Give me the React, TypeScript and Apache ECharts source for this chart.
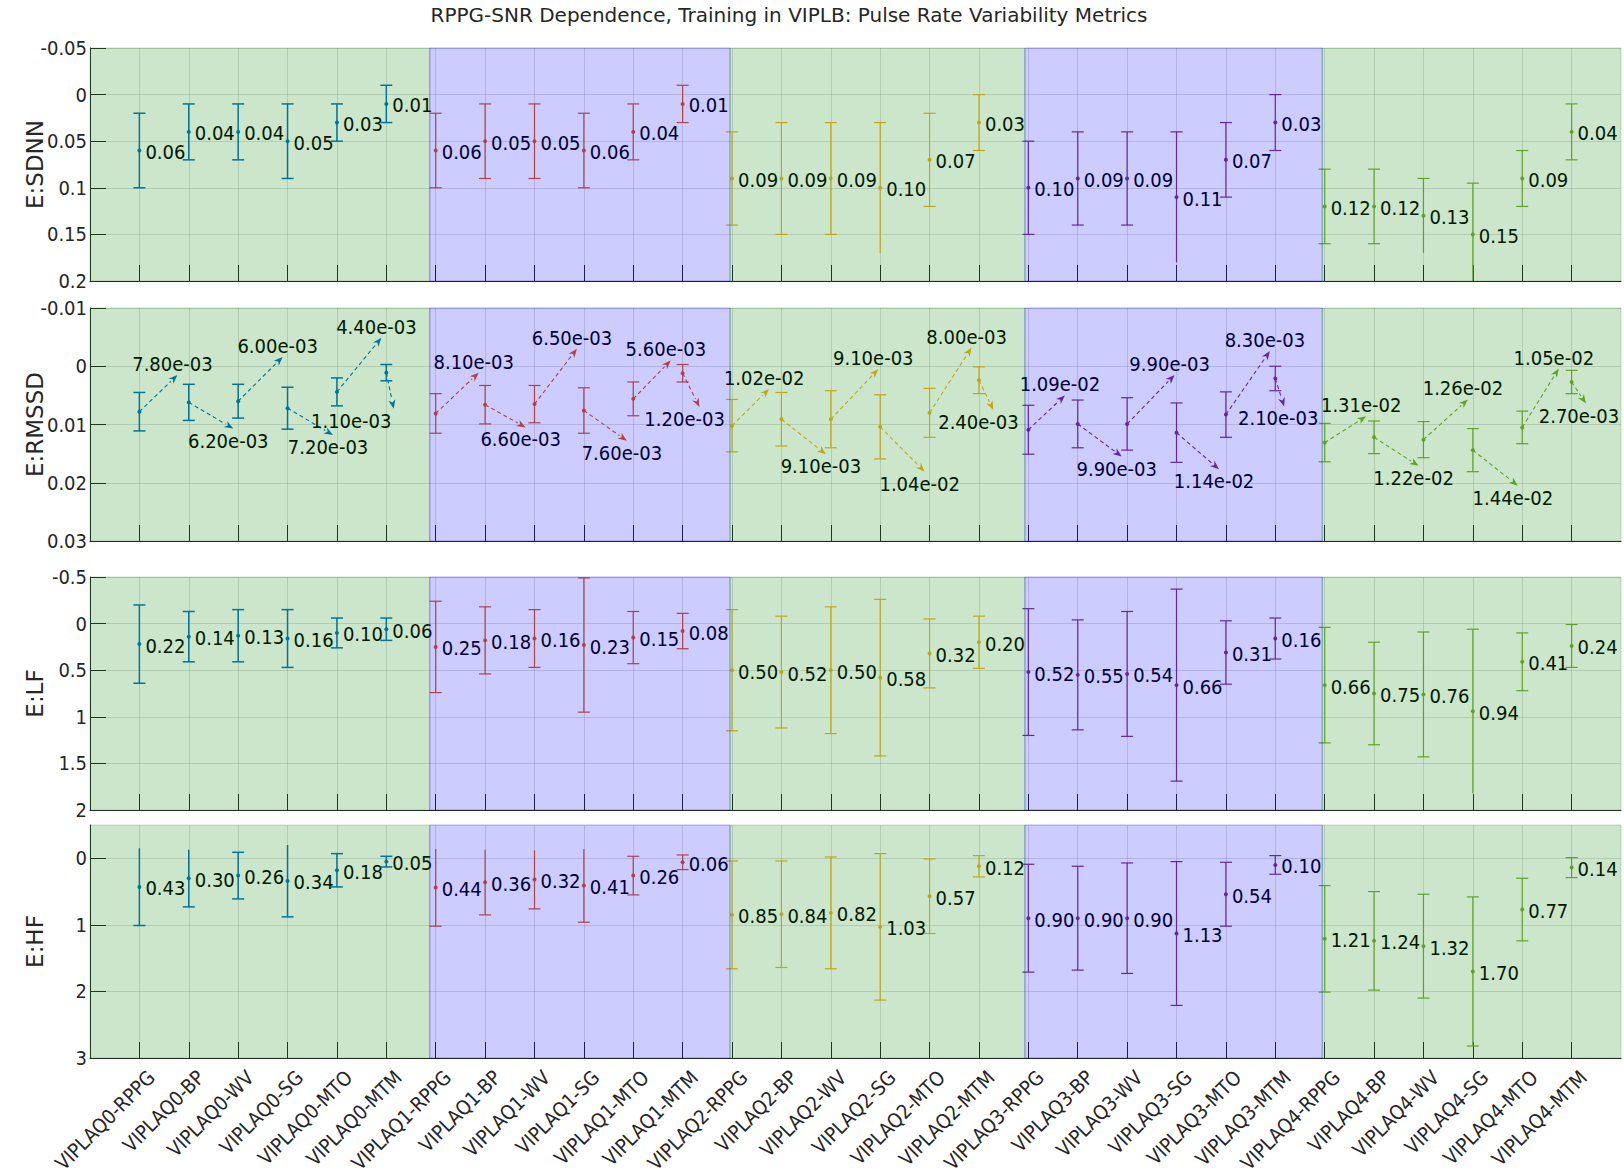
import React, { useEffect, useRef } from "react";
import * as echarts from "echarts";

const categories = [
  "VIPLAQ0-RPPG", "VIPLAQ0-BP", "VIPLAQ0-WV", "VIPLAQ0-SG", "VIPLAQ0-MTO", "VIPLAQ0-MTM",
  "VIPLAQ1-RPPG", "VIPLAQ1-BP", "VIPLAQ1-WV", "VIPLAQ1-SG", "VIPLAQ1-MTO", "VIPLAQ1-MTM",
  "VIPLAQ2-RPPG", "VIPLAQ2-BP", "VIPLAQ2-WV", "VIPLAQ2-SG", "VIPLAQ2-MTO", "VIPLAQ2-MTM",
  "VIPLAQ3-RPPG", "VIPLAQ3-BP", "VIPLAQ3-WV", "VIPLAQ3-SG", "VIPLAQ3-MTO", "VIPLAQ3-MTM",
  "VIPLAQ4-RPPG", "VIPLAQ4-BP", "VIPLAQ4-WV", "VIPLAQ4-SG", "VIPLAQ4-MTO", "VIPLAQ4-MTM",
];

// E:SDNN
const sdnnMean = [
  0.06, 0.04, 0.04, 0.05, 0.03, 0.01,
  0.06, 0.05, 0.05, 0.06, 0.04, 0.01,
  0.09, 0.09, 0.09, 0.10, 0.07, 0.03,
  0.10, 0.09, 0.09, 0.11, 0.07, 0.03,
  0.12, 0.12, 0.13, 0.15, 0.09, 0.04,
];
const sdnnErr = [
  0.04, 0.03, 0.03, 0.04, 0.02, 0.02,
  0.04, 0.04, 0.04, 0.04, 0.03, 0.02,
  0.05, 0.06, 0.06, 0.07, 0.05, 0.03,
  0.05, 0.05, 0.05, 0.07, 0.04, 0.03,
  0.04, 0.04, 0.04, 0.055, 0.03, 0.03,
];
const sdnnOpenHigh = [15, 21, 26, 27];

// E:RMSSD
const rmssdMean = [
  0.0078, 0.0062, 0.0060, 0.0072, 0.0044, 0.0011,
  0.0081, 0.0066, 0.0065, 0.0076, 0.0056, 0.0012,
  0.0102, 0.0091, 0.0091, 0.0104, 0.0080, 0.0024,
  0.0109, 0.0099, 0.0099, 0.0114, 0.0083, 0.0021,
  0.0131, 0.0122, 0.0126, 0.0144, 0.0105, 0.0027,
];
const rmssdErr = [
  0.0033, 0.0031, 0.0029, 0.0036, 0.0024, 0.0014,
  0.0034, 0.0033, 0.0032, 0.0039, 0.0029, 0.0015,
  0.0045, 0.0046, 0.0049, 0.0055, 0.0042, 0.0023,
  0.0042, 0.0041, 0.0045, 0.0051, 0.0039, 0.0021,
  0.0033, 0.0028, 0.0031, 0.0037, 0.0028, 0.0020,
];
// annotation arrow heads: x offset (in categories) and y value
const rmssdArrowDx = [
  0.77, 0.90, 0.90, 0.92, 0.90, 0.15,
  0.87, 0.82, 0.86, 0.87, 0.76, 0.34,
  0.75, 0.90, 0.96, 0.90, 0.85, 0.29,
  0.74, 0.89, 0.96, 0.86, 0.89, 0.18,
  0.84, 0.90, 0.90, 0.91, 0.74, 0.29,
];
const rmssdArrowY = [
  0.0015, 0.0107, -0.0016, 0.0118, -0.0049, 0.0073,
  0.0011, 0.0105, -0.0030, 0.0128, -0.0010, 0.0070,
  0.0039, 0.0151, 0.0005, 0.0181, -0.0032, 0.0075,
  0.0050, 0.0155, 0.0015, 0.0177, -0.0026, 0.0069,
  0.0086, 0.0171, 0.0057, 0.0205, 0.0004, 0.0064,
];
// annotation text shift from the arrow head (in categories)
const rmssdTextDx = [
  -0.1, -0.1, -0.1, -0.1, -0.1, -0.86,
  -0.1, -0.1, -0.1, -0.1, -0.1, -0.3,
  -0.1, -0.1, -0.1, -0.1, -0.1, -0.3,
  -0.1, -0.1, -0.1, -0.1, -0.1, -0.12,
  -0.1, -0.1, -0.1, -0.1, -0.1, -0.14,
];

// E:LF
const lfMean = [
  0.22, 0.14, 0.13, 0.16, 0.10, 0.06,
  0.25, 0.18, 0.16, 0.23, 0.15, 0.08,
  0.50, 0.52, 0.50, 0.58, 0.32, 0.20,
  0.52, 0.55, 0.54, 0.66, 0.31, 0.16,
  0.66, 0.75, 0.76, 0.94, 0.41, 0.24,
];
const lfErr = [
  0.42, 0.27, 0.28, 0.31, 0.16, 0.12,
  0.49, 0.36, 0.31, 0.72, 0.28, 0.19,
  0.65, 0.60, 0.68, 0.84, 0.37, 0.28,
  0.68, 0.59, 0.67, 1.03, 0.34, 0.22,
  0.62, 0.55, 0.67, 0.88, 0.31, 0.23,
];
const lfOpenHigh = [27];

// E:HF
const hfMean = [
  0.43, 0.30, 0.26, 0.34, 0.18, 0.05,
  0.44, 0.36, 0.32, 0.41, 0.26, 0.06,
  0.85, 0.84, 0.82, 1.03, 0.57, 0.12,
  0.90, 0.90, 0.90, 1.13, 0.54, 0.10,
  1.21, 1.24, 1.32, 1.70, 0.77, 0.14,
];
const hfErr = [
  0.58, 0.43, 0.35, 0.54, 0.25, 0.08,
  0.58, 0.49, 0.44, 0.55, 0.29, 0.11,
  0.81, 0.80, 0.84, 1.10, 0.56, 0.16,
  0.81, 0.78, 0.83, 1.08, 0.48, 0.14,
  0.80, 0.74, 0.78, 1.12, 0.47, 0.15,
];
const hfOpenLow = [0, 1, 3, 6, 7, 8, 9];

const groupColors = ["#0072BD", "#D95319", "#EDB120", "#7E2F8E", "#77AC30"];
const bandEdges = [0, 6.88, 12.96, 18.93, 24.95, 31];
const bandFills = ["rgba(0,128,0,0.2)", "rgba(0,0,255,0.2)"];
const bandStrokes = ["rgba(0,128,0,0.22)", "rgba(0,0,255,0.3)"];

const FONT = '"DejaVu Sans Condensed", "Liberation Sans Narrow", "DejaVu Sans", sans-serif';
const FONT_WIDE = '"DejaVu Sans", sans-serif';
const AXIS_COLOR = "#262626";

const GRID_LEFT = 90;
const GRID_RIGHT = 3;
const GRID_TOPS = [48, 308, 577, 825];
const GRID_H = 233;

type Panel = {
  name: string;
  min: number;
  max: number;
  interval: number;
  labelValues?: number[];
  mean: number[];
  err: number[];
  openLow: number[];
  openHigh: number[];
  arrows: boolean;
};

const panels: Panel[] = [
  { name: "E:SDNN", min: -0.05, max: 0.2, interval: 0.05, mean: sdnnMean, err: sdnnErr, openLow: [], openHigh: sdnnOpenHigh, arrows: false },
  { name: "E:RMSSD", min: -0.01, max: 0.03, interval: 0.01, mean: rmssdMean, err: rmssdErr, openLow: [], openHigh: [], arrows: true },
  { name: "E:LF", min: -0.5, max: 2, interval: 0.5, mean: lfMean, err: lfErr, openLow: [], openHigh: lfOpenHigh, arrows: false },
  { name: "E:HF", min: -0.5, max: 3, interval: 0.5, labelValues: [0, 1, 2, 3], mean: hfMean, err: hfErr, openLow: hfOpenLow, openHigh: [], arrows: false },
];

function fmtExp(v: number): string {
  const s = v.toExponential(2);
  return s.replace(/e([+-])(\d)$/, "e$10$2");
}

function makeErrRender(p: Panel) {
  return (params: any, api: any) => {
    const i = params.dataIndex;
    const x = api.value(0);
    const m = api.value(1);
    const e = api.value(2);
    const g = Math.floor(i / 6);
    const col = groupColors[g];
    const lo = Math.max(m - e, p.min);
    const hi = Math.min(m + e, p.max);
    const P = api.coord([x, m]);
    const T = api.coord([x, lo]);
    const B = api.coord([x, hi]);
    const lw = g === 0 ? 1.5 : 1.2;
    const cw = 6;
    const ch: any[] = [];
    ch.push({ type: "line", shape: { x1: T[0], y1: T[1], x2: B[0], y2: B[1] }, style: { stroke: col, lineWidth: lw } });
    if (!p.openLow.includes(i) && m - e >= p.min) {
      ch.push({ type: "line", shape: { x1: T[0] - cw, y1: T[1], x2: T[0] + cw, y2: T[1] }, style: { stroke: col, lineWidth: lw } });
    }
    if (!p.openHigh.includes(i) && m + e <= p.max) {
      ch.push({ type: "line", shape: { x1: B[0] - cw, y1: B[1], x2: B[0] + cw, y2: B[1] }, style: { stroke: col, lineWidth: lw } });
    }
    ch.push({ type: "circle", shape: { cx: P[0], cy: P[1], r: 2 }, style: { fill: col } });
    if (!p.arrows) {
      ch.push({
        type: "text",
        style: {
          text: m.toFixed(2), x: P[0] + 6, y: P[1] + 1.5, align: "left", verticalAlign: "middle",
          fill: "#000", fontSize: 20, fontFamily: FONT,
        },
      });
    } else {
      const tipVal = rmssdArrowY[i];
      const H = api.coord([x + rmssdArrowDx[i], tipVal]);
      const L = api.coord([x + rmssdArrowDx[i] + rmssdTextDx[i], tipVal]);
      const dx = H[0] - P[0];
      const dy = H[1] - P[1];
      const len = Math.sqrt(dx * dx + dy * dy) || 1;
      const ux = dx / len;
      const uy = dy / len;
      const hl = 9;
      const hw = 3.5;
      const bx = H[0] - ux * hl;
      const by = H[1] - uy * hl;
      const nx = -uy;
      const ny = ux;
      ch.push({
        type: "line",
        shape: { x1: P[0], y1: P[1], x2: bx, y2: by },
        style: { stroke: col, lineWidth: 1.1, lineDash: [4, 3] },
      });
      ch.push({
        type: "polygon",
        shape: { points: [[H[0], H[1]], [bx + nx * hw, by + ny * hw], [H[0] - ux * hl * 0.7, H[1] - uy * hl * 0.7], [bx - nx * hw, by - ny * hw]] },
        style: { fill: col },
      });
      const up = tipVal < m;
      ch.push({
        type: "text",
        style: {
          text: fmtExp(m), x: L[0], y: up ? H[1] - 1 : H[1] + 2, align: "center",
          verticalAlign: up ? "bottom" : "top", fill: "#000", fontSize: 20, fontFamily: FONT,
        },
      });
    }
    return { type: "group", children: ch };
  };
}

function makeBandRender(p: Panel) {
  return (params: any, api: any) => {
    const k = params.dataIndex % 2;
    const a = api.coord([api.value(0), p.min]);
    const b = api.coord([api.value(1), p.max]);
    return {
      type: "rect",
      shape: { x: a[0], y: a[1], width: b[0] - a[0], height: b[1] - a[1] },
      style: { fill: bandFills[k], stroke: bandStrokes[k], lineWidth: 1 },
    };
  };
}

const tickValues = categories.map((_, i) => i + 1);

function buildOption() {
  const grid: any[] = [];
  const xAxis: any[] = [];
  const yAxis: any[] = [];
  const series: any[] = [];
  panels.forEach((p, pi) => {
    grid.push({ left: GRID_LEFT, right: GRID_RIGHT, top: GRID_TOPS[pi], height: GRID_H });
    xAxis.push({
      type: "value", gridIndex: pi, min: 0, max: 31, interval: 1,
      axisLine: { show: true, onZero: false, lineStyle: { color: AXIS_COLOR, width: 1 } },
      axisTick: { show: true, inside: true, length: 16, customValues: tickValues, lineStyle: { color: AXIS_COLOR } },
      axisLabel: { show: false },
      splitLine: { show: true, lineStyle: { color: "rgba(38,38,38,0.15)", width: 1 } },
    });
    yAxis.push({
      type: "value", gridIndex: pi, inverse: true, min: p.min, max: p.max, interval: p.interval,
      name: p.name, nameLocation: "middle", nameGap: 44, nameRotate: 90, nameMoveOverlap: false,
      nameTextStyle: { color: AXIS_COLOR, fontSize: 23, fontFamily: FONT_WIDE },
      axisLine: { show: true, lineStyle: { color: AXIS_COLOR, width: 1 } },
      axisTick: { show: true, inside: true, length: 16, lineStyle: { color: AXIS_COLOR }, ...(p.labelValues ? { customValues: p.labelValues } : {}) },
      axisLabel: {
        color: AXIS_COLOR, fontSize: 20, fontFamily: FONT, margin: 3,
        ...(p.labelValues ? { customValues: p.labelValues } : {}),
      },
      splitLine: { show: true, lineStyle: { color: "rgba(38,38,38,0.15)", width: 1 } },
    });
    series.push({
      type: "custom", xAxisIndex: pi, yAxisIndex: pi, z: 3, silent: true,
      renderItem: makeErrRender(p),
      data: p.mean.map((m, i) => [i + 1, m, p.err[i]]),
    });
    const bands = bandEdges.slice(0, -1).map((e, i) => [e, bandEdges[i + 1]]);
    series.push({
      type: "custom", xAxisIndex: pi, yAxisIndex: pi, z: 20, silent: true,
      renderItem: makeBandRender(p),
      data: bands,
    });
  });
  // category labels under the last panel
  const lastIdx = panels.length - 1;
  const lastPanel = panels[lastIdx];
  series.push({
    type: "custom", xAxisIndex: lastIdx, yAxisIndex: lastIdx, z: 5, silent: true, clip: false,
    renderItem: (params: any, api: any) => {
      const c = api.coord([api.value(0), lastPanel.max]);
      return {
        type: "text",
        x: c[0] + 12,
        y: c[1] + 16,
        rotation: Math.PI / 4,
        style: {
          text: categories[params.dataIndex], x: 0, y: 0, align: "right", verticalAlign: "middle",
          fill: AXIS_COLOR, fontSize: 20, fontFamily: FONT,
        },
      };
    },
    data: tickValues.map((v) => [v, 0]),
  });
  return {
    animation: false,
    backgroundColor: "#ffffff",
    grid, xAxis, yAxis, series,
    graphic: [
      {
        type: "text", z: 30,
        style: {
          text: "RPPG-SNR Dependence, Training in VIPLB: Pulse Rate Variability Metrics",
          x: 789, y: 15, align: "center", verticalAlign: "middle",
          fill: AXIS_COLOR, fontSize: 20, fontFamily: FONT_WIDE,
        },
      },
    ],
  };
}

export default function App() {
  const ref = useRef<HTMLDivElement>(null);
  useEffect(() => {
    if (!ref.current) return;
    const chart = echarts.init(ref.current, undefined, { renderer: "svg" });
    chart.setOption(buildOption() as any);
    return () => chart.dispose();
  }, []);
  return (
    <div
      ref={ref}
      style={{ position: "fixed", left: 0, top: 0, width: 1624, height: 1174, background: "#fff" }}
    />
  );
}
